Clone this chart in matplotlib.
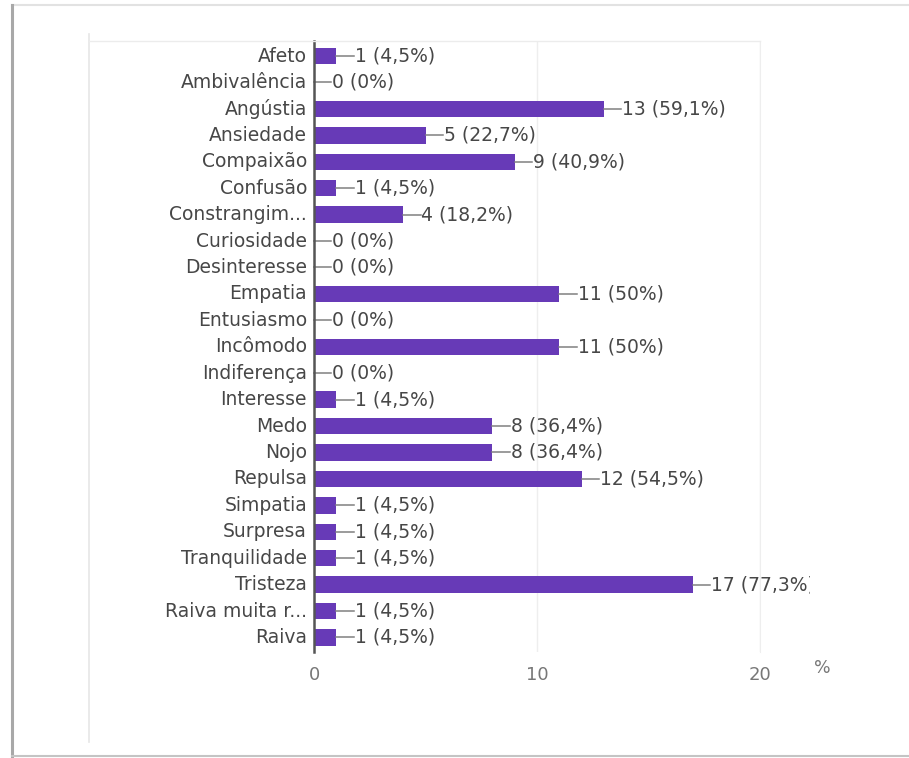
import matplotlib
matplotlib.use("Agg")
import matplotlib.pyplot as plt
from matplotlib.lines import Line2D
from matplotlib.transforms import Bbox, IdentityTransform, TransformedBbox

categorias = ["Afeto", "Ambivalência", "Angústia", "Ansiedade", "Compaixão",
              "Confusão", "Constrangim...", "Curiosidade", "Desinteresse",
              "Empatia", "Entusiasmo", "Incômodo", "Indiferença", "Interesse",
              "Medo", "Nojo", "Repulsa", "Simpatia", "Surpresa",
              "Tranquilidade", "Tristeza", "Raiva muita r...", "Raiva"]
contagens = [1, 0, 13, 5, 9, 1, 4, 0, 0, 11, 0, 11, 0, 1, 8, 8, 12, 1, 1, 1, 17, 1, 1]
percentuais = ["4,5%", "0%", "59,1%", "22,7%", "40,9%", "4,5%", "18,2%", "0%", "0%",
               "50%", "0%", "50%", "0%", "4,5%", "36,4%", "36,4%", "54,5%", "4,5%",
               "4,5%", "4,5%", "77,3%", "4,5%", "4,5%"]
ticks_x = [0, 10, 20]

W, H = 909, 758
roxo = "#673ab7"
fonte = ["DejaVu Sans"]

fig = plt.figure(figsize=(W / 100, H / 100), dpi=100)
fig.patch.set_facecolor("white")


def px(x, y):
    # pixel coordinates (top-left origin) -> figure fraction
    return x / W, 1 - y / H


def linha(x0, y0, x1, y1, cor, lw):
    a, b = px(x0, y0)
    c, d = px(x1, y1)
    fig.add_artist(Line2D([a, c], [b, d], color=cor, lw=lw, transform=fig.transFigure))


# moldura externa
linha(12, 5, 909, 5, "#e2e2e2", 1.5)
linha(12, 5, 12, 757, "#a8a8a8", 2.2)
linha(12, 756, 909, 756, "#c4c4c4", 1.5)
# contorno da área do gráfico
linha(89, 34, 89, 742, "#e6e6e6", 1.2)
linha(89, 41, 760, 41, "#ececec", 1.0)

left, top = px(314, 41)
right, bottom = px(760, 652)
ax = fig.add_axes([left, bottom, right - left, top - bottom])

y = list(range(len(categorias)))
ax.barh(y, contagens, height=0.62, color=roxo, zorder=3)

ax.set_xlim(0, 20)
ax.set_ylim(len(categorias) - 0.45, -0.57)
ax.set_xticks(ticks_x)
ax.set_xticklabels([str(t) for t in ticks_x], fontfamily=fonte, fontsize=13, color="#777777")
ax.tick_params(axis="x", length=0, pad=10)
ax.set_yticks(y)
ax.set_yticklabels(categorias, fontfamily=fonte, fontsize=13.5, color="#474747",
                   va="center")
ax.tick_params(axis="y", length=0, pad=5)
ax.grid(axis="x", color="#eeeeee", lw=1.0, zorder=0)

for lado in ["top", "bottom"]:
    ax.spines[lado].set_visible(False)
ax.spines["right"].set_color("#eeeeee")
ax.spines["left"].set_color("#555555")
ax.spines["left"].set_linewidth(1.8)
ax.spines["left"].set_zorder(4)

# rótulos de valor com traço de ligação (o mais longo sai cortado à direita)
clip = TransformedBbox(Bbox([[0, 0], [810, H]]), IdentityTransform())
for i, (v, p) in enumerate(zip(contagens, percentuais)):
    ax.plot([v, v + 0.78], [i, i], color="#808080", lw=1.1, clip_on=False, zorder=3)
    t = ax.text(v + 0.82, i, f"{v} ({p})", va="center", ha="left",
                fontfamily=fonte, fontsize=13.5, color="#474747", clip_on=True)
    t.set_clip_box(clip)

fig.text(*px(822, 668), "%", fontfamily=fonte, fontsize=12.5, color="#777777",
         ha="center", va="center")

fig.savefig("out.png", dpi=100, facecolor="white")
